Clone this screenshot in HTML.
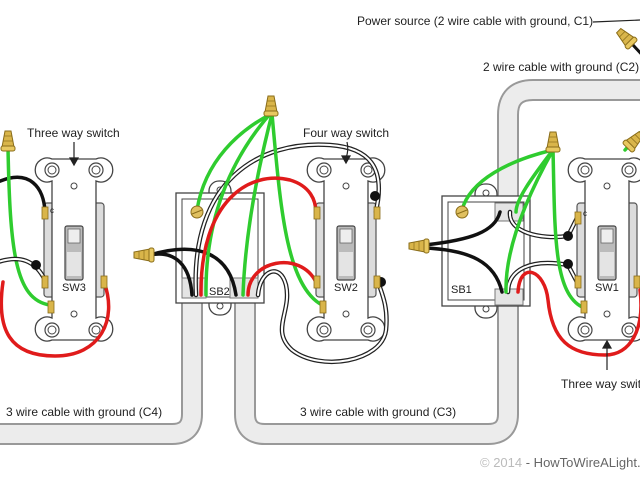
<!DOCTYPE html>
<html><head><meta charset="utf-8"><style>
html,body{margin:0;padding:0;background:#fff;width:640px;height:480px;overflow:hidden}
svg{display:block}
text{font-family:"Liberation Sans",sans-serif;fill:#222}
</style></head><body>
<svg width="640" height="480" viewBox="0 0 640 480" xmlns="http://www.w3.org/2000/svg">
<defs>
<g id="nut">
<path d="M-3,-16 L3,-16 L6,0 L-6,0 Z" fill="#d9b54a" stroke="#8a6d1a" stroke-width="1"/>
<line x1="-4" y1="-11" x2="4" y2="-11" stroke="#8a6d1a" stroke-width="0.7"/>
<line x1="-5" y1="-6" x2="5" y2="-6" stroke="#8a6d1a" stroke-width="0.7"/>
<rect x="-7" y="-1" width="14" height="5" rx="2" fill="#e8c860" stroke="#8a6d1a" stroke-width="1"/>
</g>
<g id="sw">
<rect x="-30" y="203" width="60" height="94" rx="3" fill="#dcdcdc" stroke="#555" stroke-width="1.2"/>
<path d="M-22,181 A12,12 0 1 1 -22,159 L22,159 A12,12 0 1 1 22,181 L22,318 A12,12 0 1 1 22,340 L-22,340 A12,12 0 1 1 -22,318 Z" fill="#fff" stroke="#444" stroke-width="1.3"/>
<circle cx="-22" cy="170" r="7" fill="#fff" stroke="#444" stroke-width="1.2"/><circle cx="-22" cy="170" r="4" fill="#fff" stroke="#444"/>
<circle cx="22" cy="170" r="7" fill="#fff" stroke="#444" stroke-width="1.2"/><circle cx="22" cy="170" r="4" fill="#fff" stroke="#444"/>
<circle cx="-22" cy="330" r="7" fill="#fff" stroke="#444" stroke-width="1.2"/><circle cx="-22" cy="330" r="4" fill="#fff" stroke="#444"/>
<circle cx="22" cy="330" r="7" fill="#fff" stroke="#444" stroke-width="1.2"/><circle cx="22" cy="330" r="4" fill="#fff" stroke="#444"/>
<circle cx="0" cy="186" r="3" fill="#fff" stroke="#444"/>
<circle cx="0" cy="314" r="3" fill="#fff" stroke="#444"/>
<rect x="-9" y="226" width="18" height="54" rx="2" fill="#bbb" stroke="#444" stroke-width="1.2"/>
<rect x="-6" y="229" width="12" height="14" fill="#eee" stroke="#666" stroke-width="0.8"/>
<rect x="-7" y="252" width="14" height="24" fill="#e4e4e4"/>
</g>
<g id="term"><rect x="-3" y="-6" width="6" height="12" fill="#d9b54a" stroke="#8a6d1a" stroke-width="0.8"/></g>
<g id="box">
<rect x="33" y="-12" width="22" height="24" rx="10" fill="#fff" stroke="#444" stroke-width="1.3"/>
<rect x="33" y="98" width="22" height="24" rx="10" fill="#fff" stroke="#444" stroke-width="1.3"/>
<circle cx="44" cy="-3" r="3" fill="#fff" stroke="#444"/>
<circle cx="44" cy="113" r="3" fill="#fff" stroke="#444"/>
<rect x="0" y="0" width="88" height="110" fill="#fff" stroke="#444" stroke-width="1.3"/>
<rect x="6" y="6" width="76" height="98" fill="none" stroke="#444" stroke-width="1"/>
</g>
</defs>

<g fill="none" stroke-linecap="butt">
<path d="M-5,434 L172,434 Q192,434 192,414 L192,300" stroke="#999" stroke-width="22"/>
<path d="M-5,434 L172,434 Q192,434 192,414 L192,300" stroke="#ececec" stroke-width="18"/>
<path d="M245,300 L245,414 Q245,434 265,434 L488,434 Q508,434 508,414 L508,115 Q508,90 533,90 L645,90" stroke="#999" stroke-width="22"/>
<path d="M245,300 L245,414 Q245,434 265,434 L488,434 Q508,434 508,414 L508,115 Q508,90 533,90 L645,90" stroke="#ececec" stroke-width="18"/>
</g>

<use href="#box" x="176" y="193"/>
<use href="#box" x="442" y="196"/>
<rect x="182" y="278" width="24" height="20" fill="#e4e4e4" stroke="#777"/>
<rect x="230" y="278" width="28" height="20" fill="#e4e4e4" stroke="#777"/>
<text x="209" y="295" font-size="11">SB2</text>
<rect x="495" y="203" width="28" height="18" fill="#e4e4e4" stroke="#777"/>
<rect x="495" y="289" width="28" height="16" fill="#e4e4e4" stroke="#777"/>
<text x="451" y="293" font-size="11">SB1</text>

<use href="#sw" x="74" y="0"/>
<use href="#sw" x="346" y="0"/>
<use href="#sw" x="607" y="0"/>
<text x="62" y="291" font-size="11">SW3</text>
<text x="334" y="291" font-size="11">SW2</text>
<text x="595" y="291" font-size="11">SW1</text>
<text x="50" y="213" font-size="8">c</text>
<text x="583" y="216" font-size="8">c</text>

<g fill="none" stroke-linecap="round">
<path d="M-2,182 C30,168 44,188 45,212" stroke="#111" stroke-width="3.5"/>
<path d="M8,148 C10,250 15,300 50,305" stroke="#2fcc2f" stroke-width="3.5"/>
<path d="M-2,262 C20,255 35,260 45,280" stroke="#222" stroke-width="4.5"/><path d="M-2,262 C20,255 35,260 45,280" stroke="#fff" stroke-width="2"/>
<path d="M3,282 C-4,330 10,356 55,356 C100,356 118,320 104,282" stroke="#e01b1b" stroke-width="3.5"/>
<path d="M196,295 C190,180 260,140 330,145 C372,148 382,170 378,200 L376,212" stroke="#222" stroke-width="4.5"/>
<path d="M196,295 C190,180 260,140 330,145 C372,148 382,170 378,200 L376,212" stroke="#fff" stroke-width="2"/>
<path d="M258,295 C260,270 280,262 286,285 C292,312 270,330 292,350 C320,372 382,362 386,330 C388,310 384,298 378,282" stroke="#222" stroke-width="4.5"/>
<path d="M258,295 C260,270 280,262 286,285 C292,312 270,330 292,350 C320,372 382,362 386,330 C388,310 384,298 378,282" stroke="#fff" stroke-width="2"/>
<path d="M150,255 C175,250 190,265 192,295" stroke="#111" stroke-width="3.5"/>
<path d="M150,255 C200,240 230,255 236,295" stroke="#111" stroke-width="3.5"/>
<path d="M271,114 C240,130 205,160 197,210" stroke="#2fcc2f" stroke-width="3.5"/>
<path d="M272,114 C280,200 285,285 322,305" stroke="#2fcc2f" stroke-width="3.5"/>
<path d="M270,114 C230,160 205,220 206,295" stroke="#2fcc2f" stroke-width="3.5"/>
<path d="M272,114 C255,180 245,240 243,295" stroke="#2fcc2f" stroke-width="3.5"/>
<path d="M201,295 C200,200 250,170 290,180 C310,186 316,200 316,213" stroke="#e01b1b" stroke-width="3.5"/>
<path d="M248,295 C248,260 300,250 316,282" stroke="#e01b1b" stroke-width="3.5"/>
<path d="M425,245 C470,240 495,232 500,212" stroke="#111" stroke-width="3.5"/>
<path d="M425,248 C470,250 495,262 502,292" stroke="#111" stroke-width="3.5"/>
<path d="M510,212 C508,232 540,240 568,236 L577,218" stroke="#222" stroke-width="4.5"/><path d="M510,212 C508,232 540,240 568,236 L577,218" stroke="#fff" stroke-width="2"/>
<path d="M508,292 C508,270 530,258 568,265 L577,282" stroke="#222" stroke-width="4.5"/><path d="M508,292 C508,270 530,258 568,265 L577,282" stroke="#fff" stroke-width="2"/>
<path d="M553,150 C510,160 470,180 462,210" stroke="#2fcc2f" stroke-width="3.5"/>
<path d="M553,150 C555,230 553,292 582,307" stroke="#2fcc2f" stroke-width="3.5"/>
<path d="M553,150 C530,180 516,200 516,212" stroke="#2fcc2f" stroke-width="3.5"/>
<path d="M553,150 C525,200 505,250 506,292" stroke="#2fcc2f" stroke-width="3.5"/>
<path d="M518,292 C520,260 545,270 548,300 C552,340 570,355 605,355 C630,355 645,330 640,290" stroke="#e01b1b" stroke-width="3.5"/>
<path d="M625,150 L645,128" stroke="#2fcc2f" stroke-width="3.5"/>
<path d="M633,45 L645,58" stroke="#111" stroke-width="3"/>
</g>
<circle cx="36" cy="265" r="5" fill="#111"/>
<circle cx="375" cy="196" r="5" fill="#111"/>
<circle cx="381" cy="282" r="5" fill="#111"/>
<circle cx="568" cy="236" r="5" fill="#111"/>
<circle cx="568" cy="264" r="5" fill="#111"/>
<circle cx="197" cy="212" r="6" fill="#e0c060" stroke="#8a6d1a"/><line x1="192" y1="214" x2="202" y2="210" stroke="#8a6d1a"/>
<circle cx="462" cy="212" r="6" fill="#e0c060" stroke="#8a6d1a"/><line x1="457" y1="214" x2="467" y2="210" stroke="#8a6d1a"/>
<use href="#term" x="45" y="213"/><use href="#term" x="45" y="282"/><use href="#term" x="104" y="282"/><use href="#term" x="51" y="307"/>
<use href="#term" x="317" y="213"/><use href="#term" x="317" y="282"/><use href="#term" x="377" y="213"/><use href="#term" x="377" y="282"/><use href="#term" x="323" y="307"/>
<use href="#term" x="578" y="218"/><use href="#term" x="578" y="282"/><use href="#term" x="637" y="282"/><use href="#term" x="584" y="307"/>
<use href="#nut" transform="translate(8,147)"/>
<use href="#nut" transform="translate(271,112)"/>
<use href="#nut" transform="translate(553,148)"/>
<use href="#nut" transform="translate(150,255) rotate(-90)"/>
<use href="#nut" transform="translate(425,246) rotate(-90)"/>
<use href="#nut" transform="translate(630,145) rotate(45)"/>
<use href="#nut" transform="translate(630,42) rotate(-45)"/>

<g stroke="#222" stroke-width="1.2" fill="#222">
<line x1="74" y1="142" x2="74" y2="160"/><path d="M70,158 L78,158 L74,165 Z"/>
<path d="M347,142 Q349,150 346,158" fill="none"/><path d="M342,156 L350,156 L346,163 Z"/>
<line x1="607" y1="370" x2="607" y2="346"/><path d="M603,348 L611,348 L607,341 Z"/>
<line x1="593" y1="22" x2="640" y2="20"/>
</g>

<text x="357" y="25" font-size="12">Power source (2 wire cable with ground, C1)</text>
<text x="483" y="71" font-size="12">2 wire cable with ground (C2)</text>
<text x="27" y="137" font-size="12">Three way switch</text>
<text x="303" y="137" font-size="12">Four way switch</text>
<text x="561" y="388" font-size="12">Three way switch</text>
<text x="6" y="416" font-size="12">3 wire cable with ground (C4)</text>
<text x="300" y="416" font-size="12">3 wire cable with ground (C3)</text>
<text x="480" y="467" font-size="13" style="fill:#bbb">© 2014 <tspan style="fill:#666">- HowToWireALight.com</tspan></text>
</svg>
</body></html>
